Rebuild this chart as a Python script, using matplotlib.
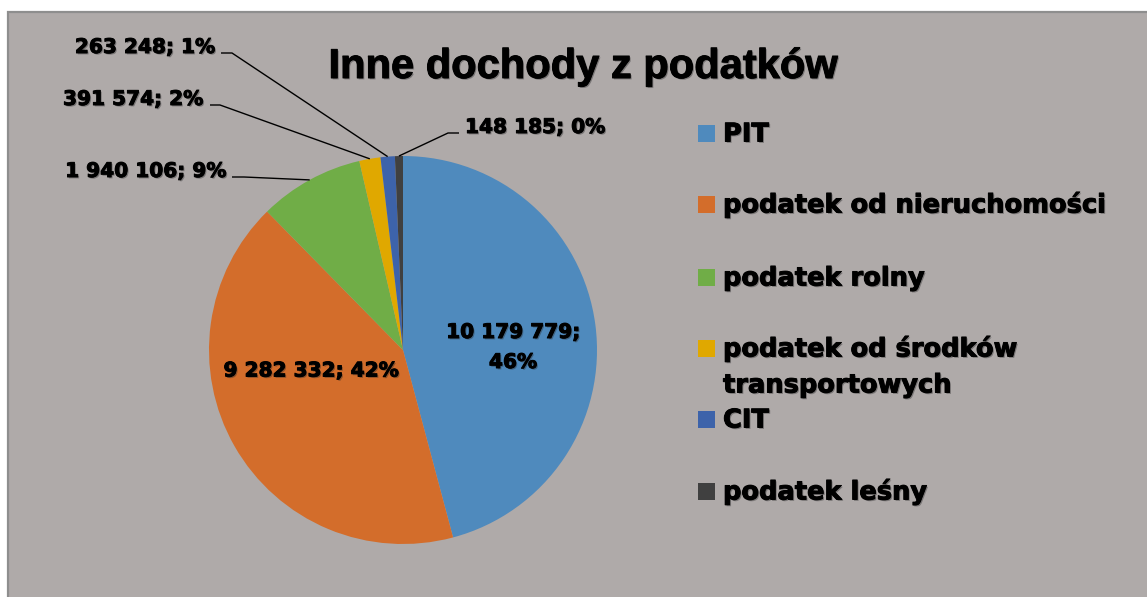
import textwrap
import matplotlib
matplotlib.use("Agg")
import matplotlib.pyplot as plt
import matplotlib.patheffects as pe
from matplotlib.patches import Rectangle
import numpy as np

# ---- data ----
categories = ["PIT", "podatek od nieruchomości", "podatek rolny",
              "podatek od środków transportowych", "CIT", "podatek leśny"]
values = [10179779, 9282332, 1940106, 391574, 263248, 148185]
pct_labels = [46, 42, 9, 2, 1, 0]
colors = ["#4F8ABD", "#D36D2B", "#70AD47", "#E0A800", "#3D63AA", "#404040"]
title = "Inne dochody z podatków"

W, H = 1147, 597
fig = plt.figure(figsize=(W / 100, H / 100), dpi=100)
fig.patch.set_facecolor("white")

# chart area background
fig.patches.append(Rectangle((8 / W, -0.01), 1.02 - 8 / W, (H - 12) / H + 0.01,
                             transform=fig.transFigure, facecolor="#AFAAA9",
                             edgecolor="#8E8E8E", linewidth=1.6, zorder=-5))

ax = fig.add_axes([0, 0, 1, 1])
ax.set_facecolor("none")
ax.set_zorder(1)

def py(y):
    return H - y

cx, cy, r = 403, py(350), 194
wedges, _ = ax.pie(values, colors=colors, startangle=90, counterclock=False,
                   center=(cx, cy), radius=r, wedgeprops=dict(linewidth=0))
ax.set_xlim(0, W)
ax.set_ylim(0, H)
ax.set_aspect("equal")
ax.axis("off")

shadow = [pe.SimplePatchShadow(offset=(1.0, -1.0), shadow_rgbFace="#2a2a2a", alpha=0.4),
          pe.Stroke(linewidth=0.7, foreground="black"), pe.Normal()]
lab_font = dict(family="DejaVu Sans", weight="bold", size=14.5, color="black")

def fmt(v, p):
    return f"{v:,}".replace(",", " ") + f"; {p}%"

labels = [fmt(v, p) for v, p in zip(values, pct_labels)]

# inner labels
first, second = labels[0].split("; ")
ax.text(513, py(338), first + ";", ha="center", va="baseline", **lab_font, path_effects=shadow)
ax.text(513, py(368), second, ha="center", va="baseline", **lab_font, path_effects=shadow)
ax.text(311, py(376.5), labels[1], ha="center", va="baseline", **lab_font, path_effects=shadow)

# outer labels with leader lines: (index, text x, baseline y, ha, seg start x, seg end x)
outer = [(2, 226, 177, "right", 232, 244),
         (3, 203, 105, "right", 210, 220),
         (4, 215, 53, "right", 221, 232),
         (5, 465, 133, "left", 459, 448)]
for i, tx, ty, ha, sx, ex in outer:
    w = wedges[i]
    mid = np.deg2rad((w.theta1 + w.theta2) / 2)
    px, pyy = cx + r * np.cos(mid), cy + r * np.sin(mid)
    ax.plot([sx, ex, px], [py(ty), py(ty), pyy], color="black", lw=1.0,
            solid_capstyle="butt")
    ax.text(tx, py(ty), labels[i], ha=ha, va="baseline", **lab_font, path_effects=shadow)

# title
fig.text(583 / W, py(78) / H, title, ha="center", va="baseline",
         family="Liberation Sans", weight="bold", size=30, color="black",
         path_effects=shadow, zorder=5)

# legend
leg_y = [133, 204, 277, 348, 419, 491]
leg_font = dict(family="DejaVu Sans", weight="bold", size=18.5, color="black")
for cat, col, yc in zip(categories, colors, leg_y):
    ax.add_patch(Rectangle((698, py(yc) - 8.5), 17, 17, facecolor=col, edgecolor="none"))
    lines = textwrap.wrap(cat, 26)
    for k, line in enumerate(lines):
        ax.text(723, py(yc + 8.5 + 36 * k), line, ha="left", va="baseline",
                **leg_font, path_effects=shadow)

fig.savefig("out.png", dpi=100, facecolor="white")
